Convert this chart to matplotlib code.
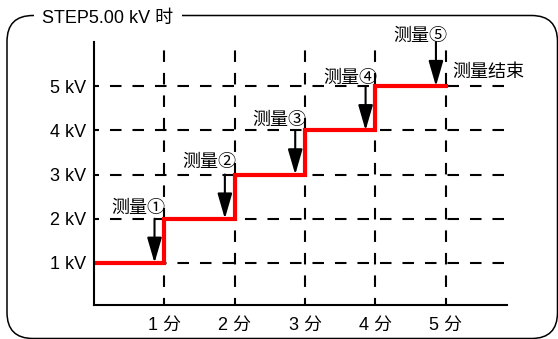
import matplotlib
matplotlib.use("Agg")
import matplotlib.pyplot as plt
from matplotlib.patches import FancyBboxPatch

plt.rcParams['lines.scale_dashes'] = False

# ---- data ----
times = [0, 1, 2, 3, 4, 5]            # minutes
volts = [1, 2, 3, 4, 5, 5]            # kV (step, post)
x_ticks = [1, 2, 3, 4, 5]
x_ticklabels = ["1 分", "2 分", "3 分", "4 分", "5 分"]
y_ticks = [1, 2, 3, 4, 5]
y_ticklabels = ["1 kV", "2 kV", "3 kV", "4 kV", "5 kV"]
measure_times = [1, 2, 3, 4, 5]
measure_volts = [1, 2, 3, 4, 5]
measure_labels = ["测量①", "测量②", "测量③", "测量④", "测量⑤"]
end_label = "测量结束"
title = "STEP5.00 kV 时"

FONT = ['Liberation Sans', 'Noto Sans CJK SC', 'DejaVu Sans']
CJK = ['Noto Sans CJK SC', 'DejaVu Sans']
plt.rcParams['font.family'] = FONT

W, H = 558, 339
fig = plt.figure(figsize=(W / 100, H / 100), dpi=100)

# frame overlay
ov = fig.add_axes([0, 0, 1, 1], zorder=0)
ov.set_xlim(0, W)
ov.set_ylim(H, 0)
ov.axis('off')
frame = FancyBboxPatch((7, 15.5), 550.5, 323, boxstyle="round,pad=0,rounding_size=26",
                       fill=False, edgecolor='black', linewidth=1.1)
ov.add_patch(frame)
ov.text(108, 18, title, fontsize=13, ha='center', va='center', family=FONT,
        bbox=dict(facecolor='white', edgecolor='none', pad=6))

# main axes
ax = fig.add_axes([94 / W, (H - 305.3) / H, (507 - 94) / W, (305.3 - 42) / H], zorder=1)
ax.patch.set_alpha(0)
ax.set_xlim(0, 5.87)
ax.set_ylim(0.04, 6.0)
for s in ['top', 'right']:
    ax.spines[s].set_visible(False)
for s in ['left', 'bottom']:
    ax.spines[s].set_linewidth(1.5)
    ax.spines[s].set_zorder(5)

ax.set_xticks(x_ticks)
ax.set_xticklabels(x_ticklabels, family=FONT, fontsize=13)
ax.set_yticks(y_ticks)
ax.set_yticklabels(y_ticklabels, family=FONT, fontsize=13)
ax.tick_params(axis='both', length=0)
ax.tick_params(axis='y', pad=6)
ax.tick_params(axis='x', pad=8)

# dashed grid
dash = (8.3, 7.9)
for y in y_ticks:
    ax.axhline(y, color='black', lw=1.5, linestyle=(4.7, dash), zorder=2)
for x in x_ticks:
    ax.axvline(x, color='black', lw=1.5, linestyle=(3.2, dash), zorder=2)

# step line
ax.step(times, volts, where='post', color='#ff0000', lw=3, zorder=3,
        solid_joinstyle='miter')

# arrows and labels
arrow_dx = 0.14
label_dy = [0.24, 0.29, 0.24, 0.18, 0.13]
for t, v, lab, dy in zip(measure_times, measure_volts, measure_labels, label_dy):
    ax.annotate('', xy=(t - arrow_dx, v), xytext=(t - arrow_dx, v + 1),
                arrowprops=dict(arrowstyle='-|>,head_length=1.55,head_width=0.45',
                                mutation_scale=10, color='black', lw=1.5,
                                shrinkA=0, shrinkB=0),
                zorder=4, annotation_clip=False)
    ax.text(t + 0.02, v + 1 + dy, lab, fontsize=13, family=CJK, ha='right',
            va='center', clip_on=False, zorder=4)

ax.text(measure_times[-1] + 0.1, measure_volts[-1] + 0.32, end_label, fontsize=13,
        family=CJK, ha='left', va='center', clip_on=False, zorder=4)

fig.savefig("out.png", dpi=100)
